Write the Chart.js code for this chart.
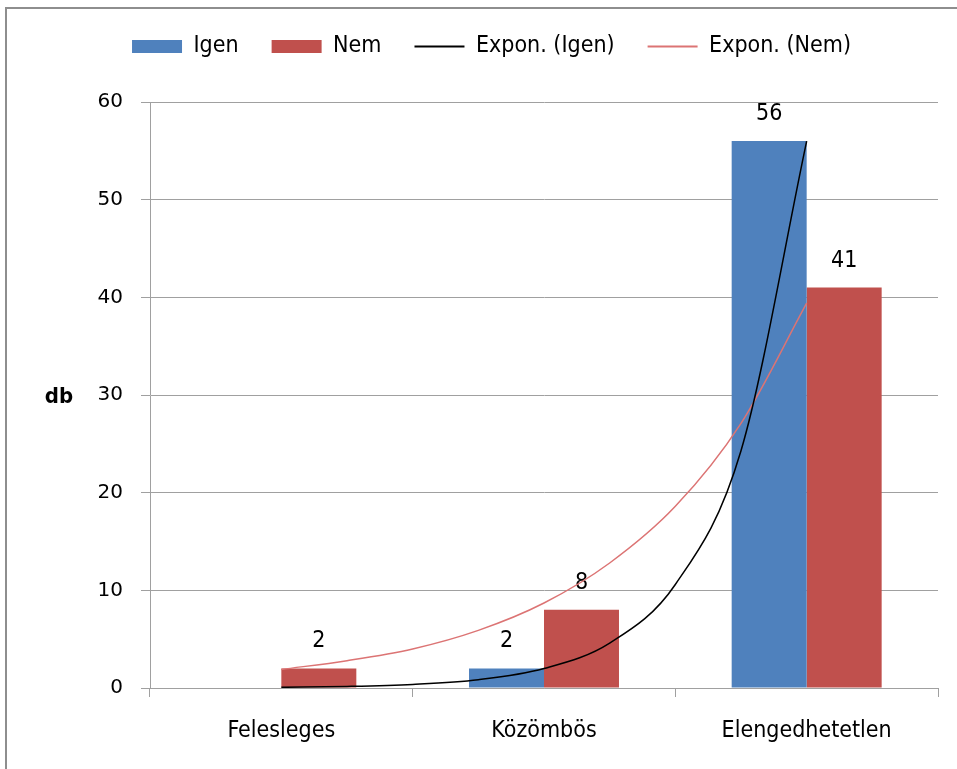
<!DOCTYPE html>
<html>
<head>
<meta charset="utf-8">
<script src="https://cdn.jsdelivr.net/npm/chart.js@4.4.0/dist/chart.umd.min.js"></script>
<style>
  html, body { margin: 0; padding: 0; background: #fff; }
  #wrap { position: relative; width: 957px; height: 769px; }
  #wrap canvas { position: absolute; left: 0; top: 0; }
  #trend { pointer-events: none; }
</style>
</head>
<body>
<div id="wrap">
  <canvas id="grafico" width="957" height="769"></canvas>
  <canvas id="trend" width="957" height="769"></canvas>
</div>
<script>
// adatok
const kategoriak = ['Felesleges', 'Közömbös', 'Elengedhetetlen'];
const igen = [null, 2, 56];
const nem = [2, 8, 41];
// trendvonalak pontjai, x = kategória sorszáma 1-től
const trendX = [1, 1.25, 1.5, 1.75, 2, 2.25, 2.5, 2.75, 3];
const trendIgen = [0.07, 0.16, 0.37, 0.85, 2.0, 4.6, 10.6, 24.3, 56];
const trendNem = [1.9, 2.8, 4.0, 5.9, 8.7, 12.8, 18.6, 27.1, 39.4];
const yTicks = [0, 10, 20, 30, 40, 50, 60];
const yCim = 'db';

const kek = '#4F81BD';
const piros = '#C0504D';
const fekete = '#000000';
const rozsa = '#DC7474';
const racs = '#A0A0A0';
const fonte = "'DejaVu Sans Condensed', 'Liberation Sans Narrow', 'DejaVu Sans', sans-serif";
const fonteSzam = "'DejaVu Sans', sans-serif";

// mindkét diagram ugyanazt a rajzterületet használja
const terulet = { left: 150, top: 102, right: 19, bottom: 81 };

const legendElemek = [
    { text: 'Igen', szin: kek, vonal: false },
    { text: 'Nem', szin: piros, vonal: false },
    { text: 'Expon. (Igen)', szin: fekete, vonal: true },
    { text: 'Expon. (Nem)', szin: rozsa, vonal: true }
];

// keret a diagram körül
const keret = {
    id: 'keret',
    beforeDraw(chart) {
        const ctx = chart.ctx;
        ctx.save();
        ctx.strokeStyle = '#8E8E8E';
        ctx.lineWidth = 2;
        ctx.beginPath();
        ctx.moveTo(6, 769);
        ctx.lineTo(6, 8);
        ctx.lineTo(957, 8);
        ctx.stroke();
        ctx.restore();
    }
};

// tengelycím vízszintesen ("db")
const tengelyCim = {
    id: 'tengelyCim',
    afterDraw(chart) {
        const ctx = chart.ctx;
        const y = chart.scales.y;
        ctx.save();
        ctx.font = "bold 22px " + fonte;
        ctx.fillStyle = '#000';
        ctx.textAlign = 'center';
        ctx.textBaseline = 'middle';
        ctx.fillText(yCim, 59, (y.top + y.bottom) / 2 + 2);
        ctx.restore();
    }
};

// értékek az oszlopok fölött
const ertekek = {
    id: 'ertekek',
    afterDatasetsDraw(chart) {
        const ctx = chart.ctx;
        ctx.save();
        ctx.font = "23px " + fonte;
        ctx.fillStyle = '#000';
        ctx.textAlign = 'center';
        ctx.textBaseline = 'middle';
        chart.data.datasets.forEach((ds, i) => {
            chart.getDatasetMeta(i).data.forEach((el, j) => {
                if (ds.data[j] === null) return;
                ctx.fillText(ds.data[j], el.x, el.y - 27);
            });
        });
        ctx.restore();
    }
};

// legenda magasabb, hogy a rajzterület lejjebb kezdődjön
const legendTer = {
    id: 'legendTer',
    afterInit(chart) {
        const fit = chart.legend.fit;
        chart.legend.fit = function () {
            fit.call(this);
            this.height = terulet.top - 2;
        };
    }
};

// oszlopok, tengelyek, legenda
new Chart(document.getElementById('grafico'), {
    type: 'bar',
    data: {
        labels: kategoriak,
        datasets: [
            {
                label: 'Igen',
                data: igen,
                backgroundColor: kek,
                categoryPercentage: 0.571,
                barPercentage: 1
            },
            {
                label: 'Nem',
                data: nem,
                backgroundColor: piros,
                categoryPercentage: 0.571,
                barPercentage: 1
            }
        ]
    },
    options: {
        responsive: false,
        animation: false,
        events: [],
        layout: {
            padding: { top: 2, left: 45, right: terulet.right, bottom: 0 }
        },
        scales: {
            x: {
                afterFit: s => { s.height = terulet.bottom; },
                grid: {
                    offset: true,
                    drawOnChartArea: false,
                    drawTicks: true,
                    tickLength: 9,
                    color: racs
                },
                border: { display: true, color: racs, width: 1 },
                ticks: {
                    padding: 20,
                    color: '#000',
                    font: { family: fonte, size: 23 }
                }
            },
            y: {
                min: 0,
                max: 60,
                afterFit: s => { s.width = terulet.left - 45; },
                afterBuildTicks: s => { s.ticks = yTicks.map(v => ({ value: v })); },
                grid: {
                    color: racs,
                    drawTicks: true,
                    tickLength: 9
                },
                border: { display: true, color: racs, width: 1 },
                ticks: {
                    padding: 18,
                    color: '#000',
                    font: { family: fonteSzam, size: 20 }
                }
            }
        },
        plugins: {
            tooltip: { enabled: false },
            legend: {
                position: 'top',
                labels: {
                    usePointStyle: true,
                    pointStyleWidth: 50,
                    boxHeight: 13,
                    padding: 33,
                    color: '#000',
                    font: { family: fonte, size: 23 },
                    generateLabels: () => legendElemek.map((e, i) => ({
                        text: e.text,
                        fillStyle: e.vonal ? 'rgba(0,0,0,0)' : e.szin,
                        strokeStyle: e.szin,
                        lineWidth: e.vonal ? 2 : 0,
                        pointStyle: e.vonal ? 'line' : 'rect',
                        hidden: false,
                        datasetIndex: i,
                        fontColor: '#000'
                    }))
                }
            }
        }
    },
    plugins: [keret, tengelyCim, ertekek, legendTer]
});

// exponenciális trendvonalak, ugyanarra a rajzterületre, fölé rajzolva
new Chart(document.getElementById('trend'), {
    type: 'line',
    data: {
        datasets: [
            {
                label: 'Expon. (Igen)',
                data: trendX.map((x, i) => ({ x: x, y: trendIgen[i] })),
                borderColor: fekete,
                borderWidth: 1.5,
                pointRadius: 0,
                fill: false,
                cubicInterpolationMode: 'monotone'
            },
            {
                label: 'Expon. (Nem)',
                data: trendX.map((x, i) => ({ x: x, y: trendNem[i] })),
                borderColor: rozsa,
                borderWidth: 1.5,
                pointRadius: 0,
                fill: false,
                cubicInterpolationMode: 'monotone'
            }
        ]
    },
    options: {
        responsive: false,
        animation: false,
        events: [],
        layout: { padding: terulet },
        scales: {
            x: { type: 'linear', display: false, min: 0.5, max: 3.5 },
            y: { display: false, min: 0, max: 60 }
        },
        plugins: {
            legend: { display: false },
            tooltip: { enabled: false }
        }
    }
});
</script>
</body>
</html>
